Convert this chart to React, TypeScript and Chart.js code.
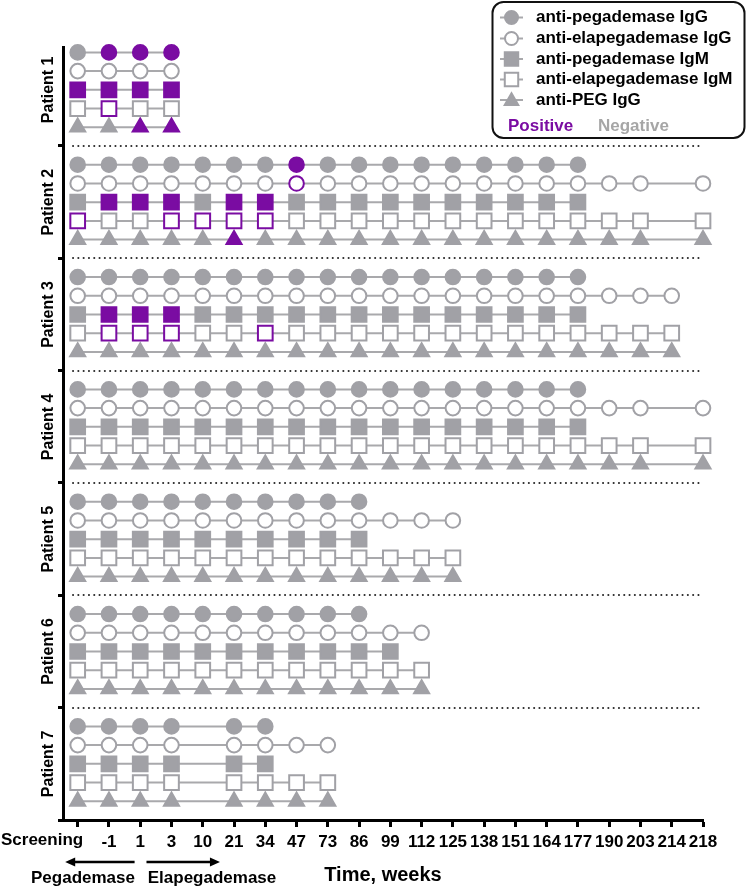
import React, { useEffect, useRef } from "react";
import { Chart, registerables } from "chart.js";

Chart.register(...registerables);

// Visit time points (x-axis categories)
const timeLabels = ["Screening", "-1", "1", "3", "10", "21", "34", "47", "73", "86", "99", "112", "125", "138", "151", "164", "177", "190", "203", "214", "218"];
const patientNames = ["Patient 1", "Patient 2", "Patient 3", "Patient 4", "Patient 5", "Patient 6", "Patient 7"];
const assayNames = ["anti-pegademase IgG", "anti-elapegademase IgG", "anti-pegademase IgM", "anti-elapegademase IgM", "anti-PEG IgG"];

// Status per visit index: P = positive, N = negative, - = not measured
const patient1 = ["NPPP", "NNNN", "PPPP", "NPNN", "NNPP"];
const patient2 = [
  "NNNNNNNPNNNNNNNNN",
  "NNNNNNNPNNNNNNNNNNN-N",
  "NPPPNPPNNNNNNNNNN",
  "PNNPPPPNNNNNNNNNNNN-N",
  "NNNNNPNNNNNNNNNNNNN-N",
];
const patient3 = [
  "NNNNNNNNNNNNNNNNN",
  "NNNNNNNNNNNNNNNNNNNN",
  "NPPPNNNNNNNNNNNNN",
  "NPPPNNPNNNNNNNNNNNNN",
  "NNNNNNNNNNNNNNNNNNNN",
];
const patient4 = [
  "NNNNNNNNNNNNNNNNN",
  "NNNNNNNNNNNNNNNNNNN-N",
  "NNNNNNNNNNNNNNNNN",
  "NNNNNNNNNNNNNNNNNNN-N",
  "NNNNNNNNNNNNNNNNNNN-N",
];
const patient5 = ["NNNNNNNNNN", "NNNNNNNNNNNNN", "NNNNNNNNNN", "NNNNNNNNNNNNN", "NNNNNNNNNNNNN"];
const patient6 = ["NNNNNNNNNN", "NNNNNNNNNNNN", "NNNNNNNNNNN", "NNNNNNNNNNNN", "NNNNNNNNNNNN"];
const patient7 = ["NNNN-NN", "NNNN-NNNN", "NNNN-NN", "NNNN-NNNN", "NNNN-NNNN"];

const patients = [patient1, patient2, patient3, patient4, patient5, patient6, patient7];

const GRAY = "#a1a1a6";
const PURPLE = "#7a0ca2";
const LINE = "#a9a9ac";
const FONT = "'Liberation Sans', Arial, sans-serif";

const rowStyles = ["circle", "circle", "rect", "rect", "triangle"];
const rowRadii = [7.3, 7.3, 10.4, 10.4, 8.7];
const rowOpen = [false, true, false, true, false];
const dividers = [6, 12, 18, 24, 30, 36, 42];

function buildDatasets() {
  const ds: any[] = [];
  patients.forEach((rows, p) => {
    rows.forEach((s, r) => {
      const pts: any[] = [];
      const bg: string[] = [];
      const bd: string[] = [];
      for (let i = 0; i < s.length; i++) {
        const c = s[i];
        if (c === "-") continue;
        pts.push({ x: i, y: p * 6 + r + 1 });
        const col = c === "P" ? PURPLE : GRAY;
        bd.push(col);
        bg.push(rowOpen[r] ? "#ffffff" : col);
      }
      ds.push({
        label: patientNames[p] + " " + assayNames[r],
        data: pts,
        showLine: true,
        borderColor: LINE,
        borderWidth: 2,
        pointStyle: rowStyles[r],
        pointRadius: rowRadii[r],
        pointHoverRadius: rowRadii[r],
        pointBackgroundColor: bg,
        pointBorderColor: bd,
        pointBorderWidth: 2,
        pointHoverBorderWidth: 2,
        clip: false,
      });
    });
  });
  return ds;
}

function drawMarker(ctx: CanvasRenderingContext2D, style: string, x: number, y: number, r: number, fill: string, stroke: string) {
  ctx.save();
  ctx.beginPath();
  if (style === "circle") {
    ctx.arc(x, y, r, 0, Math.PI * 2);
  } else if (style === "rect") {
    const s = r * Math.SQRT1_2;
    ctx.rect(x - s, y - s, 2 * s, 2 * s);
  } else {
    ctx.moveTo(x, y - r);
    ctx.lineTo(x + r * Math.cos(Math.PI / 6), y + r / 2);
    ctx.lineTo(x - r * Math.cos(Math.PI / 6), y + r / 2);
    ctx.closePath();
  }
  ctx.fillStyle = fill;
  ctx.fill();
  ctx.lineWidth = 2;
  ctx.strokeStyle = stroke;
  ctx.stroke();
  ctx.restore();
}

const decorPlugin = {
  id: "decor",
  beforeDatasetsDraw(chart: any) {
    const ctx = chart.ctx as CanvasRenderingContext2D;
    const y = chart.scales.y;
    const x = chart.scales.x;
    ctx.save();
    ctx.strokeStyle = "#2a2a2a";
    ctx.lineWidth = 2;
    ctx.lineCap = "round";
    ctx.setLineDash([0.1, 5.2]);
    dividers.slice(0, 6).forEach((v) => {
      const py = Math.round(y.getPixelForValue(v));
      ctx.beginPath();
      ctx.moveTo(x.getPixelForValue(-0.15), py);
      ctx.lineTo(x.getPixelForValue(20), py);
      ctx.stroke();
    });
    ctx.restore();
  },
  afterDraw(chart: any) {
    const ctx = chart.ctx as CanvasRenderingContext2D;
    const y = chart.scales.y;
    const x = chart.scales.x;
    ctx.save();
    // Patient labels
    ctx.fillStyle = "#000";
    ctx.font = `bold 16px ${FONT}`;
    ctx.textAlign = "center";
    ctx.textBaseline = "middle";
    patientNames.forEach((name, p) => {
      const cy = y.getPixelForValue(p * 6 + 3);
      ctx.save();
      ctx.translate(48.5, cy);
      ctx.rotate(-Math.PI / 2);
      ctx.fillText(name, 0, 0);
      ctx.restore();
    });
    // Screening label (right aligned)
    ctx.font = `bold 17px ${FONT}`;
    ctx.textAlign = "right";
    ctx.textBaseline = "top";
    ctx.fillText(timeLabels[0], x.getPixelForValue(0) + 5.5, x.top + 7 + 5);

    // Arrows
    const ay = 862;
    ctx.strokeStyle = "#000";
    ctx.fillStyle = "#000";
    ctx.lineWidth = 2.5;
    const l1 = x.getPixelForValue(-0.4);
    const r1 = x.getPixelForValue(1.82);
    const l2 = x.getPixelForValue(2.2);
    const r2 = x.getPixelForValue(4.55);
    ctx.beginPath();
    ctx.moveTo(r1, ay);
    ctx.lineTo(l1 + 8, ay);
    ctx.stroke();
    ctx.beginPath();
    ctx.moveTo(l1, ay);
    ctx.lineTo(l1 + 10, ay - 4.5);
    ctx.lineTo(l1 + 10, ay + 4.5);
    ctx.closePath();
    ctx.fill();
    ctx.beginPath();
    ctx.moveTo(l2, ay);
    ctx.lineTo(r2 - 8, ay);
    ctx.stroke();
    ctx.beginPath();
    ctx.moveTo(r2, ay);
    ctx.lineTo(r2 - 10, ay - 4.5);
    ctx.lineTo(r2 - 10, ay + 4.5);
    ctx.closePath();
    ctx.fill();

    ctx.font = `bold 17px ${FONT}`;
    ctx.textAlign = "center";
    ctx.textBaseline = "middle";
    ctx.fillText("Pegademase", 83, 878);
    ctx.fillText("Elapegademase", 212, 878);
    ctx.font = `bold 20px ${FONT}`;
    ctx.fillText("Time, weeks", (x.left + x.right) / 2, 875);

    // Legend box
    ctx.lineWidth = 2;
    ctx.strokeStyle = "#111";
    ctx.beginPath();
    (ctx as any).roundRect(492.5, 2, 252, 136, 11);
    ctx.stroke();
    const rowsY = [17.5, 38.5, 59, 79.5, 100];
    const legR = [6.5, 6.5, 9.5, 9.5, 7.8];
    rowsY.forEach((ly, i) => {
      ctx.strokeStyle = LINE;
      ctx.lineWidth = 2;
      ctx.beginPath();
      ctx.moveTo(500, ly);
      ctx.lineTo(523, ly);
      ctx.stroke();
      drawMarker(ctx, rowStyles[i], 511.5, ly + (rowStyles[i] === "triangle" ? 1 : 0), legR[i], rowOpen[i] ? "#fff" : GRAY, GRAY);
      ctx.fillStyle = "#000";
      ctx.font = `bold 17px ${FONT}`;
      ctx.textAlign = "left";
      ctx.textBaseline = "middle";
      ctx.fillText(assayNames[i], 536, ly);
    });
    ctx.fillStyle = PURPLE;
    ctx.fillText("Positive", 508, 126);
    ctx.fillStyle = "#a6a6a6";
    ctx.fillText("Negative", 598, 126);
    ctx.restore();
  },
};

export default function App() {
  const ref = useRef<HTMLCanvasElement | null>(null);
  useEffect(() => {
    document.body.style.margin = "0";
    const canvas = ref.current;
    if (!canvas) return;
    const chart = new Chart(canvas, {
      type: "scatter",
      data: { datasets: buildDatasets() },
      options: {
        animation: false,
        responsive: false,
        events: [],
        layout: { padding: { top: 47.7, right: 46, bottom: 0, left: 0 } },
        plugins: { legend: { display: false }, tooltip: { enabled: false } },
        scales: {
          x: {
            type: "linear",
            min: -0.47,
            max: 20,
            afterBuildTicks: (s: any) => {
              s.ticks = timeLabels.map((_, i) => ({ value: i }));
            },
            afterFit: (s: any) => {
              s.height = 67;
            },
            ticks: {
              autoSkip: false,
              maxRotation: 0,
              padding: 5,
              color: "#000",
              font: { family: FONT, size: 17, weight: "bold" },
              callback: (v: any) => (v === 0 ? "" : timeLabels[v] ?? ""),
            },
            grid: {
              drawOnChartArea: false,
              drawTicks: true,
              tickLength: 7,
              tickWidth: 3,
              tickColor: "#000",
            },
            border: { display: true, color: "#000", width: 3 },
          },
          y: {
            type: "linear",
            reverse: true,
            min: 0.75,
            max: 42,
            afterBuildTicks: (s: any) => {
              s.ticks = dividers.map((v) => ({ value: v }));
            },
            afterFit: (s: any) => {
              s.width = 63;
            },
            ticks: { display: false },
            grid: {
              drawOnChartArea: false,
              drawTicks: true,
              tickLength: 5,
              tickWidth: 3,
              tickColor: "#000",
            },
            border: { display: true, color: "#000", width: 3 },
          },
        },
      } as any,
      plugins: [decorPlugin],
    });
    return () => chart.destroy();
  }, []);
  return <canvas ref={ref} width={749} height={887} style={{ display: "block" }} />;
}
